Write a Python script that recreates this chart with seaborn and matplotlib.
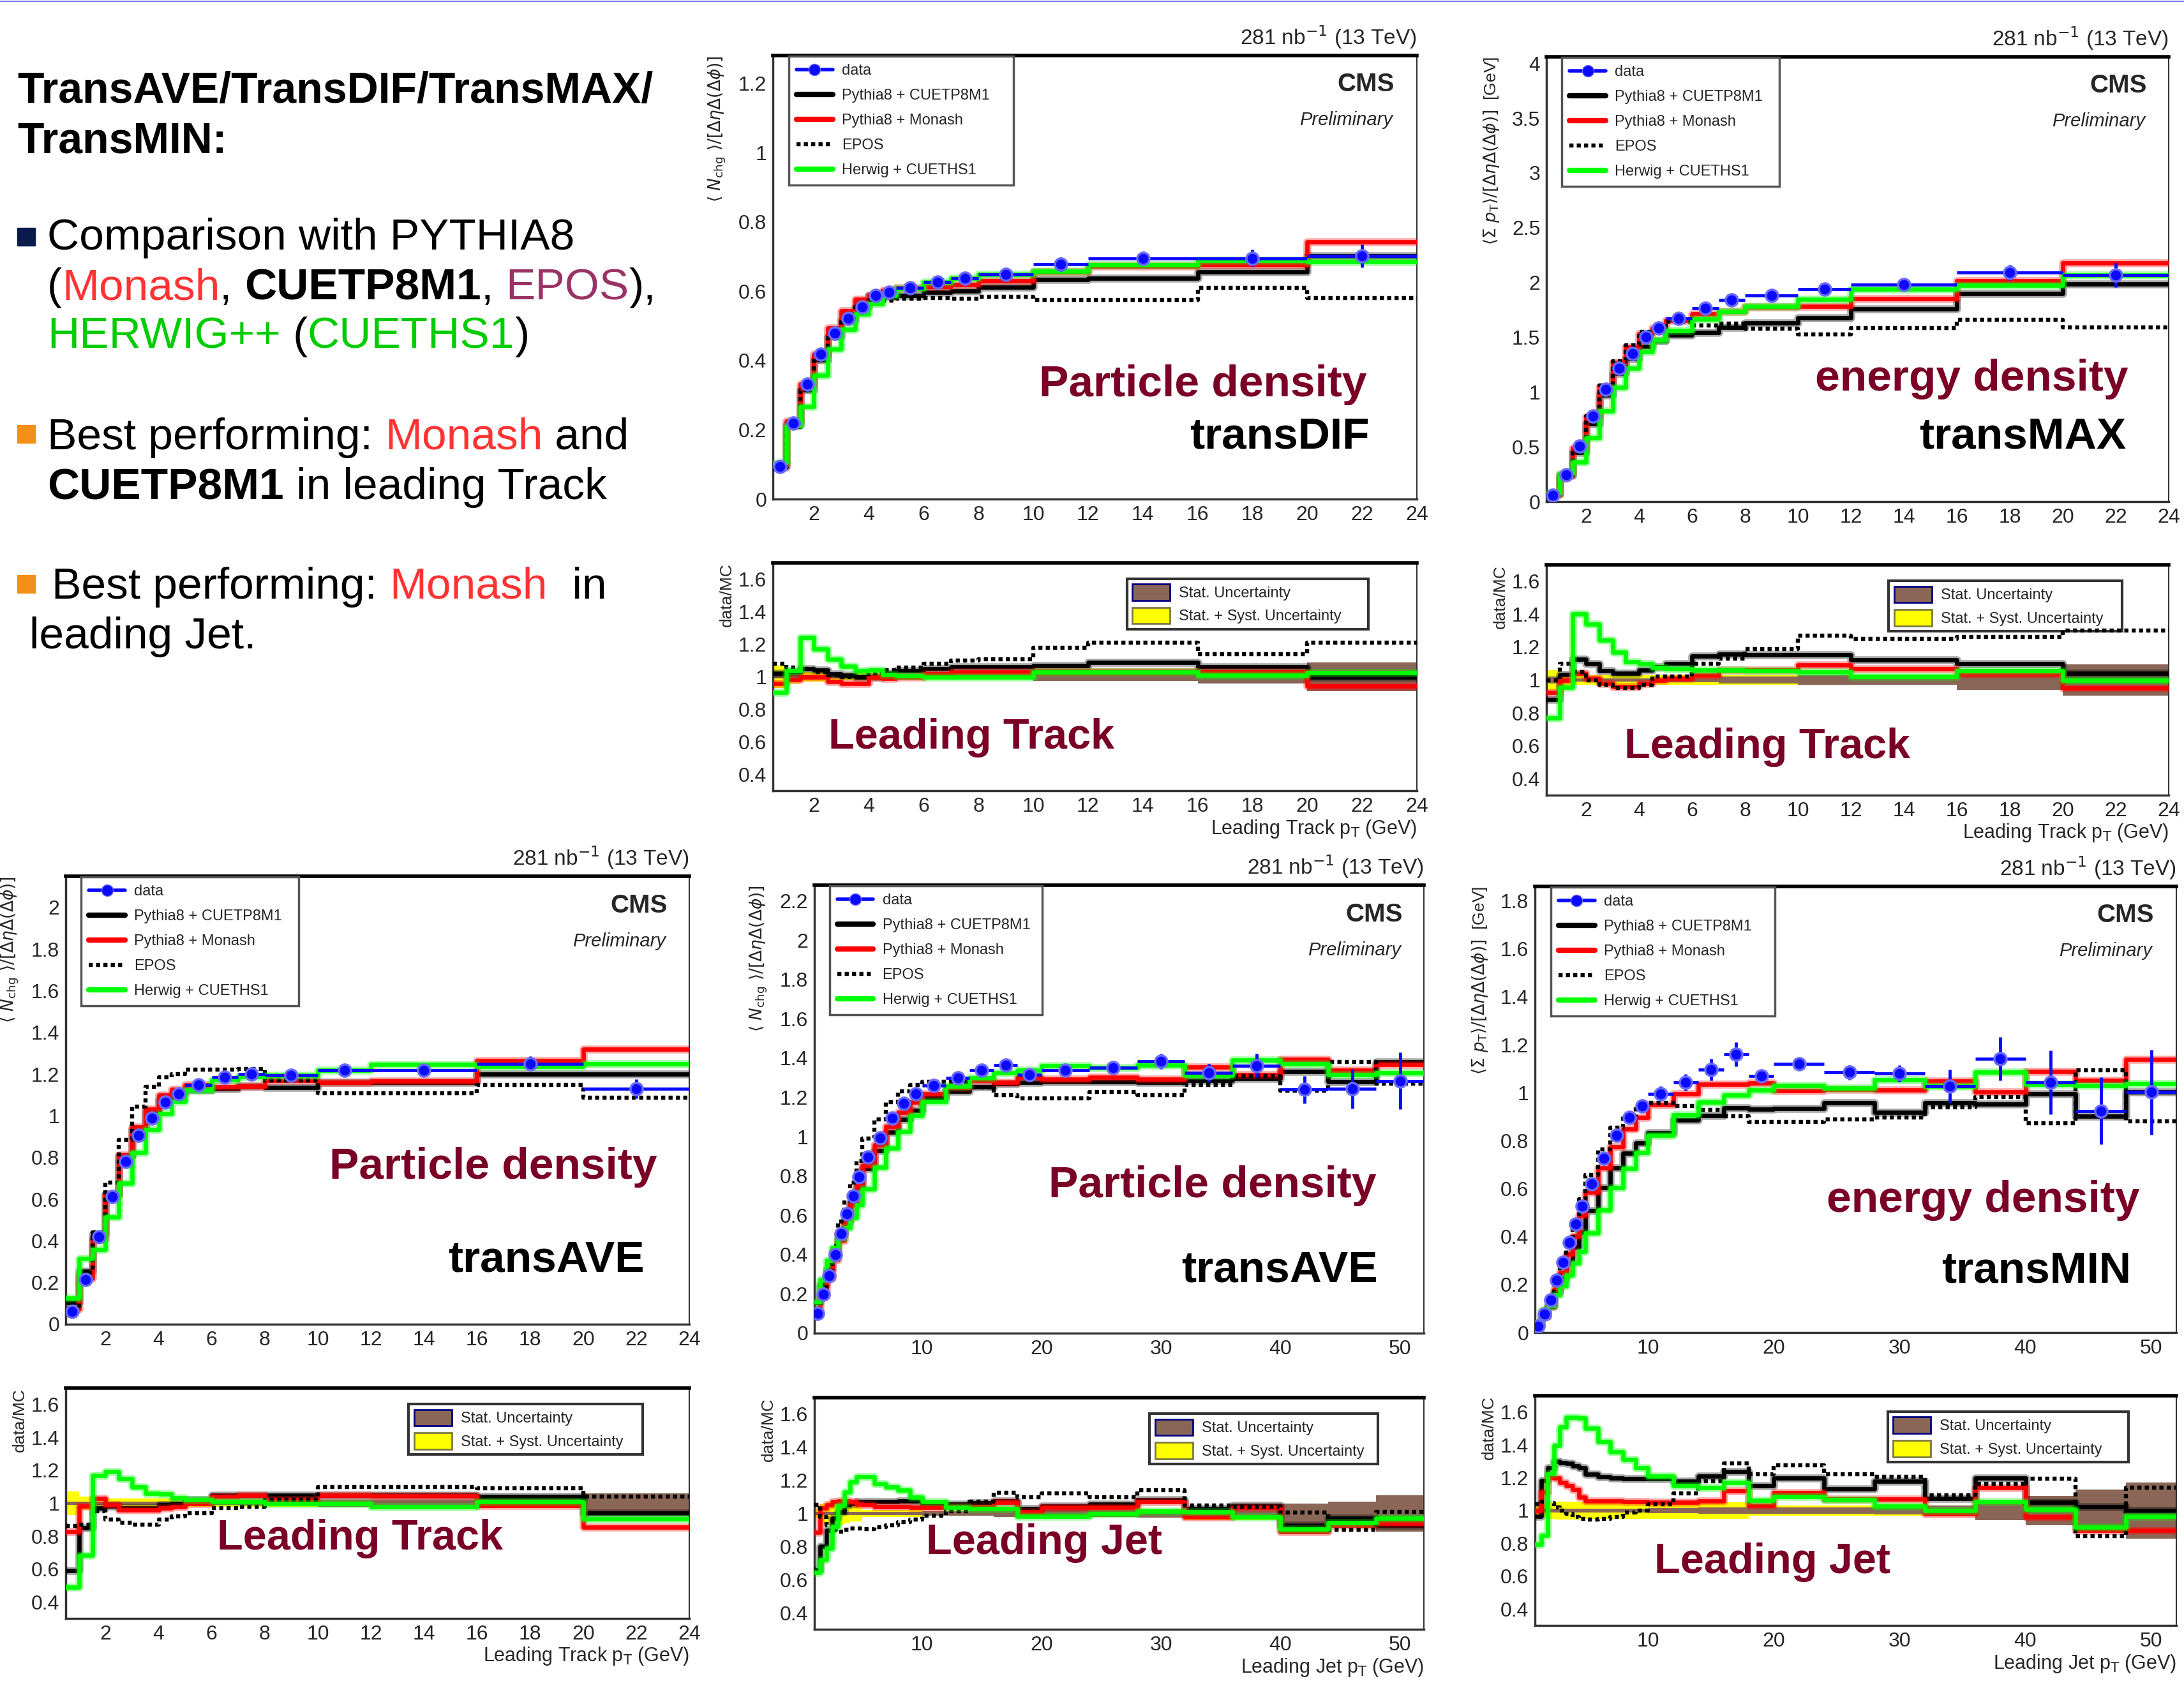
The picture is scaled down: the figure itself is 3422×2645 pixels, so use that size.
import numpy as np
import pandas as pd
import matplotlib
matplotlib.use("Agg")
import matplotlib.pyplot as plt
import seaborn as sns
from matplotlib.lines import Line2D
from matplotlib.patches import Patch, Rectangle
from matplotlib.ticker import MultipleLocator, FuncFormatter

# ---------------- binning ----------------
track_edges = [0.5, 1, 1.5, 2, 2.5, 3, 3.5, 4, 4.5, 5, 6, 7, 8, 10, 12, 16, 20, 24]
jet_edges = [1, 1.5, 2, 2.5, 3, 3.5, 4, 4.5, 5, 6, 7, 8, 9, 10, 12, 14, 16, 18, 20,
             24, 28, 32, 36, 40, 44, 48, 52]

model_labels = ["Pythia8 + CUETP8M1", "Pythia8 + Monash", "EPOS", "Herwig + CUETHS1"]

# ---------------- transDIF, leading track ----------------
dif_data = [0.094, 0.220, 0.331, 0.418, 0.479, 0.521, 0.554, 0.587, 0.596, 0.610, 0.626, 0.637, 0.648, 0.678, 0.695, 0.695, 0.702]
dif_err = [0.005, 0.005, 0.005, 0.005, 0.005, 0.005, 0.005, 0.005, 0.005, 0.008, 0.008, 0.01, 0.01, 0.02, 0.02, 0.025, 0.033]
dif_cuetp8m1 = [0.092, 0.214, 0.315, 0.402, 0.470, 0.516, 0.554, 0.587, 0.584, 0.587, 0.596, 0.601, 0.611, 0.634, 0.638, 0.656, 0.702]
dif_monash = [0.098, 0.224, 0.331, 0.418, 0.494, 0.543, 0.577, 0.587, 0.602, 0.610, 0.614, 0.618, 0.629, 0.655, 0.672, 0.675, 0.743]
dif_epos = [0.087, 0.208, 0.315, 0.406, 0.474, 0.521, 0.554, 0.575, 0.573, 0.578, 0.580, 0.579, 0.584, 0.575, 0.574, 0.610, 0.580]
dif_herwig = [0.104, 0.212, 0.267, 0.357, 0.432, 0.489, 0.535, 0.564, 0.587, 0.607, 0.626, 0.637, 0.648, 0.658, 0.675, 0.688, 0.685]
dif_stat = [0.01, 0.008, 0.008, 0.008, 0.008, 0.008, 0.008, 0.008, 0.008, 0.01, 0.01, 0.012, 0.012, 0.025, 0.025, 0.04, 0.09]
dif_syst = [0.07, 0.04, 0.03, 0.03, 0.02, 0.02, 0.02, 0.02, 0.02, 0.015, 0.015, 0.015, 0.015, 0.02, 0.02, 0.03, 0.06]

# ---------------- transMAX, leading track ----------------
max_data = [0.06, 0.244, 0.506, 0.78, 1.027, 1.22, 1.354, 1.503, 1.583, 1.673, 1.765, 1.839, 1.881, 1.94, 1.979, 2.089, 2.068]
max_err = [0.01, 0.01, 0.01, 0.01, 0.01, 0.01, 0.01, 0.01, 0.01, 0.02, 0.02, 0.03, 0.03, 0.04, 0.04, 0.07, 0.11]
max_cuetp8m1 = [0.068, 0.236, 0.449, 0.709, 0.973, 1.173, 1.302, 1.418, 1.466, 1.521, 1.541, 1.592, 1.629, 1.68, 1.762, 1.899, 1.988]
max_monash = [0.065, 0.244, 0.487, 0.772, 1.048, 1.271, 1.41, 1.534, 1.583, 1.656, 1.714, 1.735, 1.775, 1.78, 1.85, 2.018, 2.177]
max_epos = [0.06, 0.222, 0.482, 0.78, 1.059, 1.284, 1.425, 1.55, 1.552, 1.64, 1.605, 1.627, 1.581, 1.528, 1.583, 1.658, 1.591]
max_herwig = [0.078, 0.255, 0.361, 0.582, 0.826, 1.043, 1.22, 1.366, 1.473, 1.564, 1.665, 1.735, 1.783, 1.848, 1.94, 1.976, 2.068]
max_stat = [0.02, 0.01, 0.01, 0.01, 0.01, 0.01, 0.01, 0.01, 0.01, 0.015, 0.015, 0.02, 0.02, 0.03, 0.03, 0.06, 0.095]
max_syst = [0.06, 0.04, 0.03, 0.03, 0.03, 0.03, 0.03, 0.03, 0.03, 0.03, 0.03, 0.03, 0.03, 0.03, 0.03, 0.05, 0.08]

# ---------------- transAVE, leading track ----------------
avet_data = [0.062, 0.215, 0.42, 0.612, 0.78, 0.908, 0.99, 1.066, 1.105, 1.148, 1.186, 1.20, 1.194, 1.22, 1.22, 1.25, 1.13]
avet_err = [0.01, 0.01, 0.01, 0.01, 0.01, 0.01, 0.01, 0.01, 0.01, 0.01, 0.01, 0.015, 0.015, 0.02, 0.02, 0.035, 0.045]
avet_cuetp8m1 = [0.105, 0.253, 0.433, 0.624, 0.804, 0.936, 1.02, 1.077, 1.105, 1.125, 1.13, 1.143, 1.137, 1.162, 1.162, 1.202, 1.202]
avet_monash = [0.075, 0.219, 0.408, 0.618, 0.813, 0.946, 1.031, 1.099, 1.128, 1.148, 1.14, 1.143, 1.17, 1.162, 1.167, 1.266, 1.32]
avet_epos = [0.072, 0.247, 0.442, 0.68, 0.886, 1.044, 1.138, 1.184, 1.201, 1.221, 1.223, 1.224, 1.171, 1.109, 1.109, 1.147, 1.087]
avet_herwig = [0.127, 0.314, 0.359, 0.514, 0.678, 0.825, 0.934, 1.01, 1.068, 1.125, 1.174, 1.188, 1.194, 1.22, 1.245, 1.238, 1.249]
avet_stat = [0.01, 0.01, 0.01, 0.01, 0.01, 0.01, 0.01, 0.01, 0.01, 0.01, 0.01, 0.015, 0.015, 0.02, 0.02, 0.03, 0.06]
avet_syst = [0.07, 0.04, 0.03, 0.03, 0.03, 0.03, 0.03, 0.03, 0.02, 0.02, 0.02, 0.02, 0.02, 0.02, 0.02, 0.03, 0.05]

# ---------------- transAVE, leading jet ----------------
avej_data = [0.102, 0.197, 0.293, 0.40, 0.507, 0.607, 0.698, 0.797, 0.896, 0.995, 1.094, 1.169, 1.218,
             1.26, 1.30, 1.337, 1.364, 1.314, 1.337, 1.35, 1.383, 1.326, 1.362, 1.24, 1.243, 1.284]
avej_err = [0.005, 0.005, 0.005, 0.005, 0.005, 0.005, 0.005, 0.005, 0.005, 0.01, 0.01, 0.015, 0.015,
            0.02, 0.02, 0.025, 0.03, 0.03, 0.03, 0.03, 0.04, 0.045, 0.06, 0.07, 0.1, 0.145]
avej_cuetp8m1 = [0.155, 0.246, 0.326, 0.412, 0.502, 0.578, 0.658, 0.745, 0.837, 0.93, 1.022, 1.087, 1.133,
                 1.20, 1.232, 1.255, 1.269, 1.276, 1.279, 1.28, 1.275, 1.287, 1.297, 1.333, 1.281, 1.381]
avej_monash = [0.115, 0.191, 0.279, 0.374, 0.472, 0.565, 0.652, 0.755, 0.853, 0.957, 1.052, 1.124, 1.177,
               1.217, 1.25, 1.286, 1.278, 1.301, 1.292, 1.304, 1.293, 1.353, 1.316, 1.393, 1.337, 1.366]
avej_epos = [0.097, 0.201, 0.315, 0.444, 0.57, 0.674, 0.767, 0.876, 0.99, 1.087, 1.176, 1.231, 1.262,
             1.279, 1.281, 1.25, 1.212, 1.195, 1.194, 1.227, 1.213, 1.263, 1.31, 1.234, 1.381, 1.271]
avej_herwig = [0.159, 0.274, 0.371, 0.435, 0.483, 0.537, 0.587, 0.653, 0.734, 0.843, 0.943, 1.025, 1.107,
               1.178, 1.256, 1.298, 1.324, 1.337, 1.36, 1.35, 1.365, 1.313, 1.39, 1.369, 1.315, 1.324]
avej_stat = [0.01, 0.01, 0.01, 0.01, 0.01, 0.01, 0.01, 0.01, 0.01, 0.01, 0.01, 0.01, 0.01,
             0.015, 0.015, 0.015, 0.02, 0.02, 0.02, 0.02, 0.025, 0.03, 0.035, 0.058, 0.07, 0.11]
avej_syst = [0.03, 0.06, 0.07, 0.07, 0.07, 0.06, 0.05, 0.05, 0.02, 0.02, 0.02, 0.02, 0.02,
             0.015, 0.015, 0.015, 0.015, 0.015, 0.015, 0.02, 0.02, 0.04, 0.04, 0.05, 0.06, 0.09]

# ---------------- transMIN, leading jet ----------------
min_data = [0.027, 0.078, 0.136, 0.218, 0.293, 0.375, 0.453, 0.528, 0.621, 0.727, 0.821, 0.896, 0.945,
            0.996, 1.044, 1.096, 1.16, 1.071, 1.119, 1.085, 1.081, 1.027, 1.142, 1.044, 0.924, 1.003]
min_err = [0.005, 0.005, 0.005, 0.005, 0.005, 0.005, 0.005, 0.005, 0.005, 0.01, 0.01, 0.02, 0.02,
           0.03, 0.035, 0.045, 0.05, 0.02, 0.02, 0.03, 0.035, 0.068, 0.09, 0.133, 0.14, 0.177]
min_cuetp8m1 = [0.028, 0.066, 0.108, 0.168, 0.227, 0.291, 0.356, 0.419, 0.509, 0.603, 0.686, 0.749, 0.79,
                0.833, 0.885, 0.906, 0.937, 0.931, 0.933, 0.957, 0.918, 0.957, 0.952, 0.994, 0.903, 1.003]
min_monash = [0.027, 0.07, 0.113, 0.182, 0.25, 0.326, 0.401, 0.489, 0.586, 0.686, 0.775, 0.849, 0.896,
              0.949, 0.994, 1.034, 1.036, 1.04, 1.008, 1.014, 1.01, 1.048, 1.002, 1.088, 1.05, 1.14]
min_epos = [0.026, 0.074, 0.13, 0.214, 0.293, 0.383, 0.472, 0.556, 0.657, 0.765, 0.855, 0.905, 0.945,
            0.958, 0.945, 0.929, 0.901, 0.878, 0.878, 0.889, 0.896, 0.94, 0.981, 0.873, 1.093, 0.881]
min_herwig = [0.034, 0.092, 0.111, 0.156, 0.194, 0.239, 0.289, 0.338, 0.414, 0.512, 0.604, 0.684, 0.75,
              0.823, 0.908, 0.961, 0.991, 1.01, 1.03, 1.018, 1.053, 1.027, 1.085, 1.036, 1.03, 1.039]
min_stat = [0.01, 0.01, 0.01, 0.01, 0.01, 0.01, 0.01, 0.01, 0.01, 0.01, 0.01, 0.01, 0.01,
            0.015, 0.015, 0.02, 0.02, 0.02, 0.02, 0.02, 0.025, 0.03, 0.06, 0.09, 0.13, 0.17]
min_syst = [0.03, 0.04, 0.05, 0.055, 0.055, 0.055, 0.055, 0.055, 0.05, 0.05, 0.05, 0.05, 0.05,
            0.05, 0.05, 0.05, 0.05, 0.03, 0.03, 0.03, 0.03, 0.03, 0.05, 0.08, 0.11, 0.15]

# ---------------- style ----------------
W, H = 3422, 2645
BLUE = "#0a0aff"
DARKRED = "#7a0026"
BROWN = "#8a6656"
GREEN = "#00ff00"
TXT_RED = "#ff3333"
TXT_PURPLE = "#993366"
TXT_GREEN = "#00cc00"
TICK_SIZE = 23
LEG_SIZE = 17

sns.set_theme(style="white")
plt.rcParams.update({
    "font.family": ["Liberation Sans", "DejaVu Sans"],
    "mathtext.fontset": "dejavusans",
    "axes.linewidth": 2.5,
    "axes.edgecolor": "#333333",
})

fig = plt.figure(figsize=(W / 100, H / 100), dpi=100)
fig.patch.set_facecolor("white")
renderer = fig.canvas.get_renderer()


def rect(x0, y0, x1, y1):
    return [x0 / W, 1 - y1 / H, (x1 - x0) / W, (y1 - y0) / H]


def fmt(v, _):
    return f"{round(v, 3):g}"


def style_axes(ax, xlim, ylim, xmaj, xmin, ymaj, ymin):
    ax.set_xlim(*xlim)
    ax.set_ylim(*ylim)
    ax.xaxis.set_major_locator(MultipleLocator(xmaj))
    ax.xaxis.set_minor_locator(MultipleLocator(xmin))
    ax.yaxis.set_major_locator(MultipleLocator(ymaj))
    ax.yaxis.set_minor_locator(MultipleLocator(ymin))
    ax.xaxis.set_major_formatter(FuncFormatter(fmt))
    ax.yaxis.set_major_formatter(FuncFormatter(fmt))
    ax.tick_params(which="both", direction="in", top=False, right=False,
                   labelsize=TICK_SIZE, color="#333333", width=2.5, pad=7)
    ax.tick_params(axis="y", which="major", length=22)
    ax.tick_params(axis="y", which="minor", length=12)
    ax.tick_params(axis="x", which="major", length=16)
    ax.tick_params(axis="x", which="minor", length=9)
    ax.spines["top"].set_linewidth(4)
    ax.spines["top"].set_color("black")
    ax.spines["right"].set_linewidth(1.5)
    ax.set_facecolor("white")


def steps(ax, edges, vals, **kw):
    df = pd.DataFrame({"pt": edges, "v": list(vals) + [vals[-1]]})
    sns.lineplot(data=df, x="pt", y="v", ax=ax, drawstyle="steps-post",
                 estimator=None, sort=False, legend=False, **kw)


def band(ax, edges, half, color, z):
    h = np.append(half, half[-1])
    ax.fill_between(edges, 1 - h, 1 + h, step="post", color=color, lw=0, zorder=z)


DOTS = (0, (1, 0.8))
LINE_STYLES = [("black", "-"), ("red", "-"), ("black", DOTS), (GREEN, "-")]


def draw_models(ax, edges, series, order, z0):
    for i in order:
        color, ls = LINE_STYLES[i]
        vals = series[i]
        if ls == "-":
            steps(ax, edges, vals, color=color, linewidth=9, alpha=0.35, zorder=z0 + i)
            steps(ax, edges, vals, color=color, linewidth=4.8, zorder=z0 + 1 + i)
        else:
            steps(ax, edges, vals, color=color, linewidth=4.6, linestyle=ls, zorder=z0 + 1 + i)


def draw_panel(sp):
    ax = fig.add_axes(rect(*sp["main"]))
    axr = fig.add_axes(rect(*sp["ratio"]))
    edges = np.array(sp["edges"], float)
    data = np.array(sp["data"])
    centers = (edges[:-1] + edges[1:]) / 2
    half = np.diff(edges) / 2
    wpx = sp["main"][2] - sp["main"][0]

    # main panel
    draw_models(ax, edges, sp["models"], [0, 1, 2, 3], 2)
    ax.errorbar(centers, data, yerr=sp["err"], xerr=half, fmt="none", ecolor=BLUE,
                elinewidth=3.5, capsize=0, zorder=8)
    sns.scatterplot(x=centers, y=data, ax=ax, color=BLUE, s=190, edgecolor="#6a6aff",
                    linewidth=2.5, zorder=9, legend=False)
    style_axes(ax, sp["xlim"], sp["ylim"], sp["xmaj"], sp["xmin"], sp["ymaj"], sp["ymin"])
    ax.set_xlabel("")
    ax.set_ylabel(sp["ylabel"], loc="top", fontsize=19)
    ax.yaxis.set_label_coords(-71 / wpx, 1.0)

    handles = [Line2D([], [], color=BLUE, marker="o", ms=13, mec="#6a6aff", lw=4, label="data")]
    for i, lab in enumerate(model_labels):
        color, ls = LINE_STYLES[i]
        handles.append(Line2D([], [], color=color, lw=6 if ls == "-" else 4.6, ls=ls, label=lab))
    leg = ax.legend(handles=handles, loc="upper left", bbox_to_anchor=(0.025, 0.683, 0.349, 0.315),
                    mode="expand", fontsize=LEG_SIZE, frameon=True, fancybox=False, edgecolor="#555555",
                    framealpha=1, borderpad=0.5, labelspacing=0.72, handlelength=2.4,
                    handletextpad=0.6, borderaxespad=0)
    leg.get_frame().set_linewidth(2.5)

    ax.text(1.0, 1.012, r"281 nb$^{-1}$ (13 TeV)", transform=ax.transAxes, ha="right",
            va="bottom", fontsize=24)
    ax.text(0.965, 0.935, "CMS", transform=ax.transAxes, ha="right", va="center",
            fontsize=29, weight="bold")
    ax.text(0.962, 0.855, "Preliminary", transform=ax.transAxes, ha="right", va="center",
            fontsize=21, style="italic")
    ax.text(sp["t1"][0], sp["t1"][1], sp["title1"], transform=ax.transAxes, ha="right",
            va="baseline", fontsize=50, weight="bold", color=DARKRED)
    ax.text(sp["t2"][0], sp["t2"][1], sp["title2"], transform=ax.transAxes, ha="right",
            va="baseline", fontsize=50, weight="bold", color="black")

    # ratio panel: data / MC
    band(axr, edges, sp["syst"], "yellow", 1)
    band(axr, edges, sp["stat"], BROWN, 2)
    ratios = [data / np.array(m) for m in sp["models"]]
    draw_models(axr, edges, ratios, [2, 0, 1, 3], 3)
    style_axes(axr, sp["xlim"], (0.3, 1.7), sp["xmaj"], sp["xmin"], 0.2, 0.05)
    axr.set_ylabel("data/MC", loc="top", fontsize=19)
    axr.yaxis.set_label_coords(-60 / wpx, 1.0)
    axr.set_xlabel(sp["xlabel"], loc="right", fontsize=22, labelpad=2)
    rh = [Patch(facecolor=BROWN, edgecolor="#000080", lw=2, label="Stat. Uncertainty"),
          Patch(facecolor="yellow", edgecolor="#7a7a40", lw=2, label="Stat. + Syst. Uncertainty")]
    rleg = axr.legend(handles=rh, loc="upper left", bbox_to_anchor=(0.55, 0.71, 0.375, 0.22),
                      mode="expand", fontsize=LEG_SIZE, frameon=True, fancybox=False, edgecolor="#333333",
                      framealpha=1, borderpad=0.35, labelspacing=0.45, handlelength=2.5,
                      handleheight=1.3, handletextpad=0.6, borderaxespad=0)
    rleg.get_frame().set_linewidth(3)
    axr.text(sp["rl"][0], sp["rl"][1], sp["rlabel"], transform=axr.transAxes, ha="left",
             va="baseline", fontsize=48, weight="bold", color=DARKRED)


NCH = r"$\langle\ N_{\rm chg}\ \rangle/[\Delta\eta\Delta(\Delta\phi)]$"
PTS = r"$\langle\Sigma\ p_{\rm T}\rangle/[\Delta\eta\Delta(\Delta\phi)]$  [GeV]"
XT = r"Leading Track p$_{\rm T}$ (GeV)"
XJ = r"Leading Jet p$_{\rm T}$ (GeV)"

panels = [
    dict(main=(1211, 87, 2220, 782), ratio=(1211, 882, 2220, 1239), edges=track_edges,
         data=dif_data, err=dif_err, models=[dif_cuetp8m1, dif_monash, dif_epos, dif_herwig],
         stat=dif_stat, syst=dif_syst, xlim=(0.5, 24), ylim=(0, 1.28), xmaj=2, xmin=0.5,
         ymaj=0.2, ymin=0.05, ylabel=NCH, xlabel=XT, title1="Particle density", t1=(0.922, 0.231),
         title2="transDIF", t2=(0.926, 0.114), rlabel="Leading Track", rl=(0.086, 0.184)),
    dict(main=(2423, 89, 3398, 786), ratio=(2423, 885, 3398, 1246), edges=track_edges,
         data=max_data, err=max_err, models=[max_cuetp8m1, max_monash, max_epos, max_herwig],
         stat=max_stat, syst=max_syst, xlim=(0.5, 24), ylim=(0, 4.06), xmaj=2, xmin=0.5,
         ymaj=0.5, ymin=0.1, ylabel=PTS, xlabel=XT, title1="energy density", t1=(0.935, 0.25),
         title2="transMAX", t2=(0.932, 0.12), rlabel="Leading Track", rl=(0.125, 0.16)),
    dict(main=(103, 1373, 1080, 2075), ratio=(103, 2175, 1080, 2536), edges=track_edges,
         data=avet_data, err=avet_err, models=[avet_cuetp8m1, avet_monash, avet_epos, avet_herwig],
         stat=avet_stat, syst=avet_syst, xlim=(0.5, 24), ylim=(0, 2.15), xmaj=2, xmin=0.5,
         ymaj=0.2, ymin=0.05, ylabel=NCH, xlabel=XT, title1="Particle density", t1=(0.948, 0.325),
         title2="transAVE", t2=(0.928, 0.117), rlabel="Leading Track", rl=(0.243, 0.30)),
    dict(main=(1276, 1387, 2231, 2089), ratio=(1276, 2190, 2231, 2553), edges=jet_edges,
         data=avej_data, err=avej_err, models=[avej_cuetp8m1, avej_monash, avej_epos, avej_herwig],
         stat=avej_stat, syst=avej_syst, xlim=(1, 52), ylim=(0, 2.28), xmaj=10, xmin=2,
         ymaj=0.2, ymin=0.05, ylabel=NCH, xlabel=XJ, title1="Particle density", t1=(0.922, 0.303),
         title2="transAVE", t2=(0.924, 0.114), rlabel="Leading Jet", rl=(0.183, 0.326)),
    dict(main=(2405, 1389, 3410, 2088), ratio=(2405, 2187, 3410, 2547), edges=jet_edges,
         data=min_data, err=min_err, models=[min_cuetp8m1, min_monash, min_epos, min_herwig],
         stat=min_stat, syst=min_syst, xlim=(1, 52), ylim=(0, 1.86), xmaj=10, xmin=2,
         ymaj=0.2, ymin=0.05, ylabel=PTS, xlabel=XJ, title1="energy density", t1=(0.943, 0.27),
         title2="transMIN", t2=(0.929, 0.113), rlabel="Leading Jet", rl=(0.186, 0.228)),
]

for sp in panels:
    draw_panel(sp)

# ---------------- slide text on the left ----------------
fig.add_artist(Line2D([0, 1], [1 - 2 / H, 1 - 2 / H], transform=fig.transFigure,
                      color="#8080ff", lw=1.5))


def advance(s, **kw):
    t = fig.text(0, 0, "|" + s + "|", **kw)
    w1 = t.get_window_extent(renderer).width
    t.set_text("||")
    w2 = t.get_window_extent(renderer).width
    t.remove()
    return w1 - w2


def colored_line(x, y, parts, size=50):
    for s, color, weight in parts:
        kw = dict(fontsize=size, color=color, weight=weight)
        fig.text(x / W, 1 - y / H, s, va="baseline", ha="left", **kw)
        x += advance(s, **kw)


def bullet(y0, color):
    fig.add_artist(Rectangle((27 / W, 1 - (y0 + 28) / H), 28 / W, 28 / H,
                             transform=fig.transFigure, color=color))


K, N, B = "black", "normal", "bold"
colored_line(27, 161, [("TransAVE/TransDIF/TransMAX/", K, B)], size=49)
colored_line(27, 239, [("TransMIN:", K, B)], size=49)

bullet(357, "#0a1a4a")
colored_line(74, 391, [("Comparison with PYTHIA8", K, N)])
colored_line(74, 469, [("(", K, N), ("Monash", TXT_RED, N), (", ", K, N), ("CUETP8M1", K, B),
                       (", ", K, N), ("EPOS", TXT_PURPLE, N), ("),", K, N)])
colored_line(74, 546, [("HERWIG++", TXT_GREEN, N), (" (", K, N), ("CUETHS1", TXT_GREEN, N), (")", K, N)])

bullet(666, "#f39019")
colored_line(74, 704, [("Best performing: ", K, N), ("Monash", TXT_RED, N), (" and", K, N)])
colored_line(74, 782, [("CUETP8M1", K, B), (" in leading Track", K, N)])

bullet(901, "#f39019")
colored_line(81, 938, [("Best performing: ", K, N), ("Monash", TXT_RED, N), ("  in", K, N)])
colored_line(46, 1016, [("leading Jet.", K, N)])

fig.savefig("out.png", dpi=100, facecolor="white")
